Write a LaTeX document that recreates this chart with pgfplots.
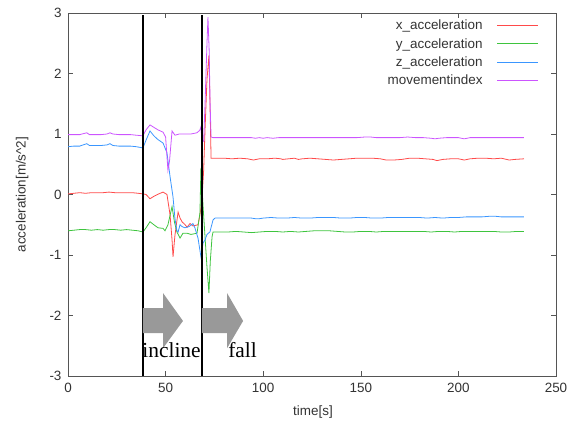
\documentclass[border=0pt]{standalone}
\usepackage{pgfplots}
\pgfplotsset{compat=1.18}
\usepackage{pgfplotstable}
\usepackage{fontspec}
\setmainfont{Liberation Sans}
\newfontfamily\serifb{Liberation Serif}
\definecolor{colx}{HTML}{FF4A4A}
\definecolor{coly}{HTML}{3EC43E}
\definecolor{colz}{HTML}{3A96FF}
\definecolor{colm}{HTML}{CC55FF}
\definecolor{axc}{HTML}{555555}
\definecolor{arr}{HTML}{999999}
\definecolor{txt}{HTML}{333333}

\pgfplotstableread{
t v
0 0.01
3 0.02
6 0.03
9 0.02
12 0.03
15 0.03
18 0.03
21 0.04
24 0.03
27 0.03
30 0.03
33 0.03
36 0.02
38.4 0.01
40 0.00
42 -0.07
44 -0.03
46.5 0.01
48.7 0.04
50.7 0.00
52.3 -0.34
53.3 -0.75
53.8 -1.03
54.8 -0.67
56.4 -0.29
57.4 -0.39
58.4 -0.45
60 -0.50
61 -0.54
62.5 -0.48
64 -0.52
66.6 -0.50
67.6 -0.34
68.6 -0.09
69.5 0.4
70.2 1.07
71.2 1.9
72.2 2.3
72.7 1.56
73.3 0.60
76 0.60
80 0.60
84 0.59
88 0.60
92 0.59
95 0.57
98 0.59
102 0.59
106 0.60
109 0.59
110 0.58
113 0.59
116 0.60
118 0.58
120 0.59
124 0.60
128 0.59
132 0.58
136 0.57
140 0.58
144 0.59
148 0.60
152 0.60
156 0.60
160 0.59
163 0.57
167 0.57
171 0.58
175 0.60
179 0.60
183 0.59
187 0.58
189 0.56
192 0.58
196 0.59
200 0.59
203 0.57
206 0.59
210 0.60
214 0.60
218 0.59
222 0.60
226 0.57
229 0.58
233.6 0.59
}\xdata

\pgfplotstableread{
t v
0 -0.60
3 -0.59
6 -0.58
9 -0.58
12 -0.59
15 -0.58
18 -0.59
21 -0.58
24 -0.58
27 -0.59
30 -0.58
33 -0.59
36 -0.60
38.4 -0.62
40 -0.55
42 -0.45
44 -0.50
46.1 -0.55
48.7 -0.56
49.7 -0.60
51.2 -0.50
53.3 -0.20
54.5 -0.45
55.8 -0.62
57.4 -0.72
58.9 -0.64
61 -0.64
63 -0.66
66.1 -0.64
67.6 -0.30
68.1 0.44
69.2 -0.2
70.2 -0.7
71.2 -1.2
72.2 -1.63
72.9 -1.1
73.8 -0.7
74.3 -0.62
78 -0.62
82 -0.62
86 -0.61
90 -0.62
94 -0.63
98 -0.62
102 -0.61
106 -0.61
110 -0.62
114 -0.61
118 -0.62
122 -0.61
126 -0.60
130 -0.60
134 -0.60
138 -0.61
142 -0.62
146 -0.62
150 -0.61
154 -0.61
158 -0.62
162 -0.61
166 -0.61
170 -0.61
174 -0.61
178 -0.61
182 -0.61
186 -0.62
190 -0.61
194 -0.61
198 -0.62
202 -0.61
206 -0.61
210 -0.61
214 -0.61
218 -0.61
222 -0.62
226 -0.62
230 -0.61
233.6 -0.61
}\ydata

\pgfplotstableread{
t v
0 0.79
3 0.80
6 0.80
9.6 0.84
11 0.81
14 0.81
17 0.81
20 0.82
21.5 0.84
23 0.81
26 0.80
29 0.80
32 0.80
35 0.79
38.4 0.77
40 0.90
42 1.05
44 0.97
46 0.91
48.7 0.85
50.7 0.69
52.3 0.29
53.8 -0.04
54.8 -0.40
55.8 -0.60
56.4 -0.62
57.4 -0.50
58.4 -0.53
59.9 -0.55
62 -0.53
64 -0.48
65 -0.55
66.6 -0.72
68.1 -1.03
69.2 -0.80
70.2 -0.75
71.2 -0.66
72.7 -0.62
74.3 -0.42
75.3 -0.39
78 -0.39
82 -0.39
86 -0.39
90 -0.39
94 -0.39
96 -0.40
98 -0.40
100 -0.39
104 -0.38
108 -0.39
112 -0.39
116 -0.38
120 -0.39
124 -0.39
128 -0.38
132 -0.38
136 -0.38
140 -0.39
144 -0.39
148 -0.38
152 -0.38
156 -0.39
160 -0.39
164 -0.38
168 -0.38
172 -0.38
176 -0.38
180 -0.38
184 -0.39
188 -0.38
192 -0.39
196 -0.38
200 -0.38
204 -0.37
208 -0.37
212 -0.37
216 -0.36
219 -0.36
222 -0.37
226 -0.37
230 -0.37
233.6 -0.37
}\zdata

\pgfplotstableread{
t v
0 0.99
3 0.99
6 0.99
9.6 1.02
11 0.99
14 0.99
17 0.99
20 1.00
21.5 1.02
23 1.00
26 0.99
29 0.99
32 0.99
35 0.98
38.4 0.97
40 1.07
42 1.15
44 1.11
46 1.07
48.7 1.03
50 0.95
51.2 0.40
52 0.55
53.3 1.05
54.8 0.98
57 1.00
60 1.00
63 1.00
66 1.02
67.5 1.06
68.1 1.12
68.6 0.90
69.5 0.88
70.2 1.5
71.2 2.5
71.7 2.93
72.3 2.4
72.8 1.5
73.3 0.95
74.3 0.94
78 0.94
82 0.94
86 0.94
90 0.94
94 0.94
96 0.93
98 0.94
100 0.93
102 0.94
105 0.93
108 0.94
112 0.94
116 0.94
120 0.94
124 0.94
128 0.94
132 0.94
136 0.94
140 0.94
144 0.94
148 0.94
152 0.95
155 0.95
158 0.94
162 0.94
166 0.94
170 0.94
174 0.95
178 0.94
182 0.94
186 0.93
188 0.92
190 0.93
194 0.94
197 0.94
200 0.94
203 0.92
206 0.94
210 0.94
214 0.94
218 0.94
222 0.94
226 0.94
230 0.94
233.6 0.94
}\mdata

\begin{document}
\begin{tikzpicture}
\useasboundingbox (0,0) rectangle (584bp,435bp);
\begin{axis}[
  at={(68bp,59bp)}, anchor=south west,
  scale only axis, width=488bp, height=363bp,
  xmin=0, xmax=250, ymin=-3, ymax=3,
  xtick={0,50,100,150,200,250},
  ytick={-3,-2,-1,0,1,2,3},
  tick align=inside,
  major tick length=5bp,
  axis line style={axc, line width=0.8pt},
  tick style={axc, line width=0.6pt},
  font=\fontsize{13.5}{16}\selectfont,
  /pgf/number format/assume math mode=true,
  ticklabel style={font=\fontsize{13.5}{16}\selectfont, text=txt},
  xticklabel style={yshift=-4bp},
  yticklabel style={xshift=-3bp},
  xlabel={time[s]},
  ylabel={acceleration[m/s\^{}2]},
  xlabel style={at={(axis description cs:0.502,-0.099)}, anchor=center, text=txt},
  ylabel style={at={(axis description cs:-0.094,0.5)}, anchor=center, rotate=0, text=txt},
]
\addplot[colx, line width=0.8pt] table[x=t,y=v] {\xdata};
\addplot[coly, line width=0.8pt] table[x=t,y=v] {\ydata};
\addplot[colz, line width=0.8pt] table[x=t,y=v] {\zdata};
\addplot[colm, line width=0.8pt] table[x=t,y=v] {\mdata};
% legend key lines (gnuplot style, right of the text)
\addplot[colx, line width=0.9pt, forget plot] coordinates {(219.8,2.80) (240.8,2.80)};
\addplot[coly, line width=0.9pt, forget plot] coordinates {(219.8,2.49) (240.8,2.49)};
\addplot[colz, line width=0.9pt, forget plot] coordinates {(219.8,2.19) (240.8,2.19)};
\addplot[colm, line width=0.9pt, forget plot] coordinates {(219.8,1.89) (240.8,1.89)};
\addplot[black, line width=1.6bp, forget plot] coordinates {(38.4,-3) (38.4,2.97)};
\addplot[black, line width=1.6bp, forget plot] coordinates {(68.6,-3) (68.6,2.97)};
\fill[arr] (axis cs:38.4,-1.88) -- (axis cs:48.7,-1.88) -- (axis cs:48.7,-1.63) -- (axis cs:58.9,-2.09) -- (axis cs:48.7,-2.54) -- (axis cs:48.7,-2.29) -- (axis cs:38.4,-2.29) -- cycle;
\fill[arr] (axis cs:68.6,-1.88) -- (axis cs:81.5,-1.88) -- (axis cs:81.5,-1.63) -- (axis cs:89.7,-2.09) -- (axis cs:81.5,-2.54) -- (axis cs:81.5,-2.29) -- (axis cs:68.6,-2.29) -- cycle;
\node[anchor=base west, inner sep=0pt, font=\serifb\fontsize{21.5}{22}\selectfont] at (axis cs:38.0,-2.70) {incline};
\node[anchor=base west, inner sep=0pt, font=\serifb\fontsize{21.5}{22}\selectfont] at (axis cs:82.0,-2.70) {fall};
\node[anchor=base east, inner sep=0pt, text=txt] at (axis description cs:0.850,0.9545) {x\_acceleration};
\node[anchor=base east, inner sep=0pt, text=txt] at (axis description cs:0.850,0.902) {y\_acceleration};
\node[anchor=base east, inner sep=0pt, text=txt] at (axis description cs:0.850,0.853) {z\_acceleration};
\node[anchor=base east, inner sep=0pt, text=txt] at (axis description cs:0.850,0.803) {movementindex};
\end{axis}
\end{tikzpicture}
\end{document}
